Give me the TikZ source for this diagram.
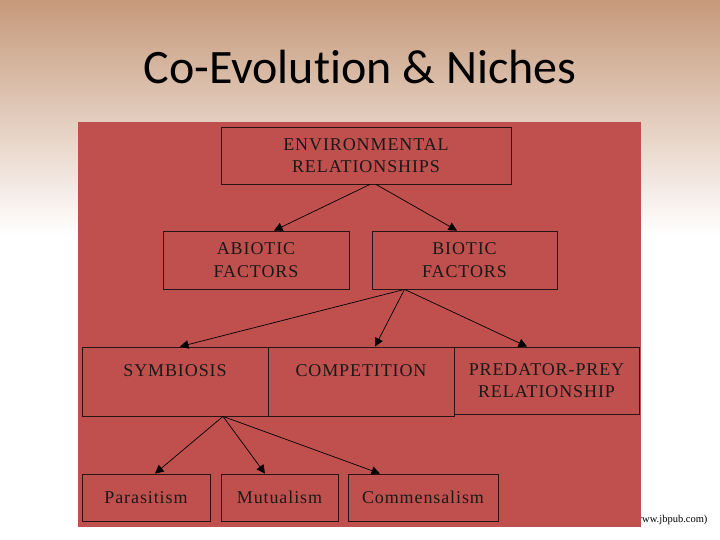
\documentclass[tikz,border=0pt]{standalone}
\usepackage{fontspec}
\setmainfont{Liberation Serif}[LetterSpace=5]
\newfontfamily\titlefont{Carlito}[Ligatures=NoCommon]
\newfontfamily\srcfont{Liberation Serif}
\usetikzlibrary{arrows.meta}
\definecolor{slidetop}{RGB}{198,153,122}
\definecolor{panelred}{RGB}{192,80,77}
\definecolor{boxline}{RGB}{40,20,20}
\tikzset{
    box/.style={draw=boxline, line width=0.8pt, inner sep=0pt, align=center,
        font=\fontsize{18}{22.5}\selectfont, text=black!90},
    link/.style={draw=black, line width=0.7pt, -{Triangle[width=8.5pt,length=8.5pt]}},
}

\begin{document}
\begin{tikzpicture}[x=1pt,y=-1pt]
\useasboundingbox (0,0) rectangle (720,540);
\fill[white] (0,0) rectangle (720,540);
\shade[top color=slidetop, bottom color=white] (0,0) rectangle (720,235);

\node[anchor=east, font=\srcfont\fontsize{10.5}{12}\selectfont] (src) at (711,520) {(www.jbpub.com)};
\fill[panelred] (78,122) rectangle (641,527);

\node[font=\titlefont\fontsize{48}{56}\selectfont] (title) at (360,67) {Co-Evolution \& Niches};

\node[box, minimum width=290pt, minimum height=57pt] (env) at (366,155.5) {ENVIRONMENTAL\\RELATIONSHIPS};
\node[box, minimum width=186pt, minimum height=58pt] (abiotic) at (256,260) {ABIOTIC\\FACTORS};
\node[box, minimum width=185pt, minimum height=58pt] (biotic) at (464.5,260) {BIOTIC\\FACTORS};
\node[box, minimum width=186pt, minimum height=69pt] (sym) at (175,381.5) {SYMBIOSIS\\\mbox{}};
\node[box, minimum width=186pt, minimum height=69pt] (comp) at (361,381.5) {COMPETITION\\\mbox{}};
\node[box, minimum width=185pt, minimum height=67pt] (pred) at (546.5,380.5) {PREDATOR-PREY\\RELATIONSHIP};
\node[box, minimum width=128pt, minimum height=47pt] (para) at (146,497.5) {Parasitism};
\node[box, minimum width=117pt, minimum height=47pt] (mutu) at (279.5,497.5) {Mutualism};
\node[box, minimum width=150pt, minimum height=47pt] (comm) at (423,497.5) {Commensalism};

\draw[link] ([xshift=4pt]env.south) -- ([xshift=18pt]abiotic.north);
\draw[link] ([xshift=10pt]env.south) -- ([xshift=-7.5pt]biotic.north);
\draw[link] ([xshift=-60pt]biotic.south) -- ([xshift=5pt]sym.north);
\draw[link] ([xshift=-60pt]biotic.south) -- ([xshift=14pt]comp.north);
\draw[link] ([xshift=-60pt]biotic.south) -- ([xshift=-19.5pt]pred.north);
\draw[link] ([xshift=48pt]sym.south) -- ([xshift=9pt]para.north);
\draw[link] ([xshift=48pt]sym.south) -- ([xshift=-14.5pt]mutu.north);
\draw[link] ([xshift=48pt]sym.south) -- ([xshift=-43pt]comm.north);
\end{tikzpicture}
\end{document}
